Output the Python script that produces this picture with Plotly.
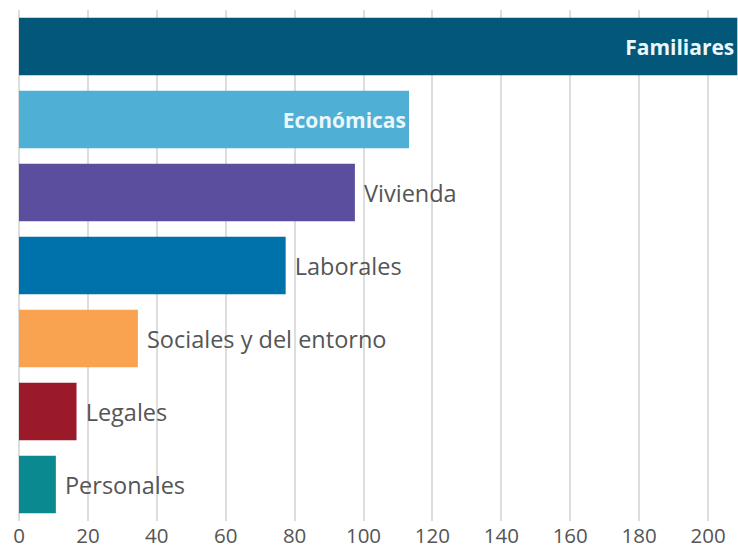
import plotly.graph_objects as go

categories = ["Familiares", "Económicas", "Vivienda", "Laborales",
              "Sociales y del entorno", "Legales", "Personales"]
values = [208.5, 113.2, 97.5, 77.4, 34.5, 16.7, 10.7]
colors = ["#03587A", "#4FAFD5", "#5B4E9F", "#0072AB", "#F9A24F", "#9A1A2A", "#0A8A90"]
tick_vals = [0, 20, 40, 60, 80, 100, 120, 140, 160, 180, 200]

positions = ["inside", "inside", "outside", "outside", "outside", "outside", "outside"]
text_colors = ["#EAF7FC", "#EAF7FC", "#555555", "#555555", "#555555", "#555555", "#555555"]
text_sizes = [21, 21, 23.5, 23.5, 23.5, 23.5, 23.5]
text_labels = [f"<b>{c}</b>" if p == "inside" else f"\u00a0{c}"
               for c, p in zip(categories, positions)]

fig = go.Figure(go.Bar(
    x=values,
    y=categories,
    orientation="h",
    marker=dict(color=colors, line=dict(width=0)),
    text=text_labels,
    textposition=positions,
    insidetextanchor="end",
    textfont=dict(size=text_sizes, color=text_colors, family="Open Sans"),
    cliponaxis=False,
    hoverinfo="skip",
))

fig.update_layout(
    width=738, height=550,
    margin=dict(l=19, r=0, t=10, b=29),
    plot_bgcolor="white", paper_bgcolor="white",
    bargap=0.21,
    showlegend=False,
    font=dict(family="Open Sans", color="#555555"),
)
fig.update_xaxes(
    range=[0, 208.7],
    tickvals=tick_vals,
    automargin=False,
    showgrid=True, gridcolor="#DDDDDD", gridwidth=1.5,
    zeroline=True, zerolinecolor="#DDDDDD", zerolinewidth=1.5,
    tickfont=dict(size=20.5, color="#555555", family="Open Sans"),
    showline=False, ticks="",
)
fig.update_yaxes(
    autorange="reversed",
    automargin=False,
    showticklabels=False,
    showgrid=False, zeroline=False, showline=False, ticks="",
)

# remove the browser's default page margin so the figure fills the window exactly
fig.write_html(
    "out.html",
    config={"displayModeBar": False},
    post_script="document.body.style.margin='0';document.documentElement.style.overflow='hidden';",
)
